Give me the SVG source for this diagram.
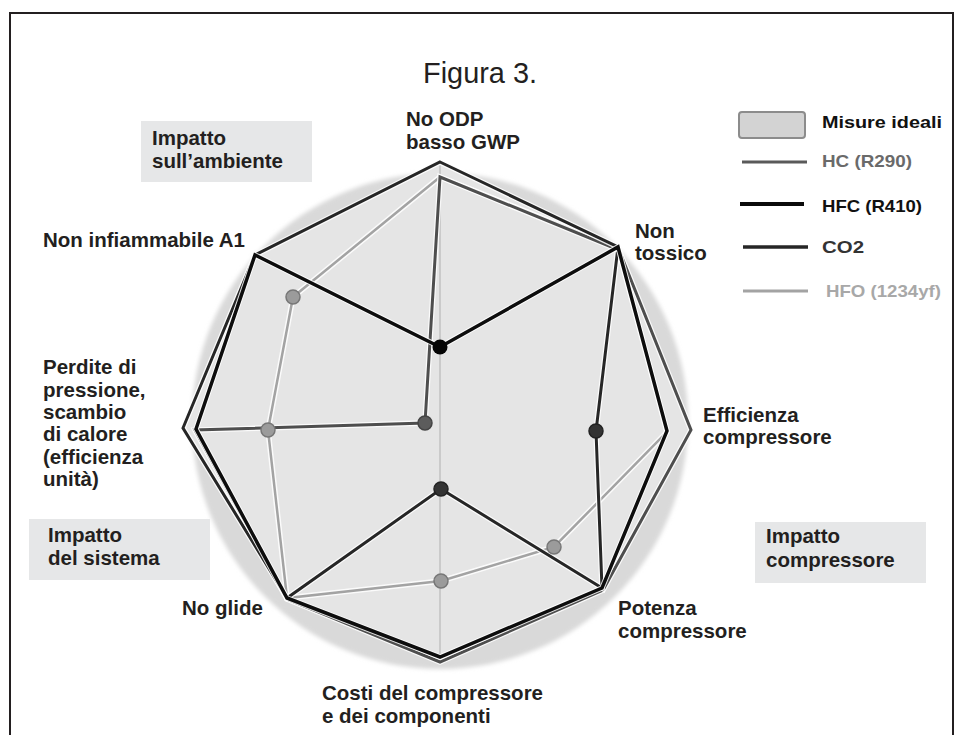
<svg xmlns="http://www.w3.org/2000/svg" width="960" height="735" viewBox="0 0 960 735">
<defs>
<style>
.lbl{font-family:"Liberation Sans",Arial,Helvetica,sans-serif;font-weight:bold;font-size:20.5px;fill:#231f20}
.leg{font-family:"Liberation Sans",Arial,Helvetica,sans-serif;font-weight:bold;font-size:17px}
.box{fill:#e6e7e8}
.halo{fill:none;stroke:#ffffff;stroke-width:5.5;stroke-linejoin:miter;stroke-opacity:0.85}
.s{fill:none;stroke-linejoin:miter}
</style>
<filter id="soft" x="-10%" y="-10%" width="120%" height="120%"><feGaussianBlur stdDeviation="2"/></filter>
</defs>
<rect x="0" y="0" width="960" height="735" fill="#ffffff"/>
<path d="M10,740 V13 H953 V740" fill="none" stroke="#231f20" stroke-width="2"/>
<text x="480" y="83" text-anchor="middle" font-family="'Liberation Sans',Arial,sans-serif" font-size="29" fill="#231f20" textLength="114" lengthAdjust="spacingAndGlyphs">Figura 3.</text>

<g id="ideal-area">
<circle cx="440" cy="421" r="248" fill="#d9d9d9" filter="url(#soft)"/>
<polygon points="440,162 618,247 691,430 602,588 440,662 287,598 183,428 255,255" fill="#e5e5e5"/>
<line x1="440" y1="162" x2="440" y2="662" stroke="#b8b8b8" stroke-width="1.2"/>
</g>

<g id="connectors">
<g id="series-hfo">
<polygon class="halo" points="440,177 618,248 667,432 554,547 441,581 287,598 268,430 293,297"/>
<polygon class="s" stroke="#a3a3a3" stroke-width="2.5" points="440,177 618,248 667,432 554,547 441,581 287,598 268,430 293,297"/>
</g>
<g id="series-hc">
<polygon class="halo" points="440,177 619,250 691,430 603,590 440,662 287,599 195,430 425,423"/>
<polygon class="s" stroke="#4e4e4e" stroke-width="3" points="440,177 619,250 691,430 603,590 440,662 287,599 195,430 425,423"/>
</g>
<g id="series-co2">
<polygon class="halo" points="440,162 618,247 596,431 602,588 441,489 287,598 183,428 255,255"/>
<polygon class="s" stroke="#262626" stroke-width="3" points="440,162 618,247 596,431 602,588 441,489 287,598 183,428 255,255"/>
</g>
<g id="series-hfc">
<polygon class="halo" points="440,347 618,247 667,431 602,588 440,657 287,598 196,429 255,255"/>
<polygon class="s" stroke="#0d0d0d" stroke-width="3.5" points="440,347 618,247 667,431 602,588 440,657 287,598 196,429 255,255"/>
</g>
<g id="dots">
<circle cx="293" cy="297" r="7" fill="#9b9b9b" stroke="#777" stroke-width="1.5"/>
<circle cx="268" cy="430" r="7" fill="#9b9b9b" stroke="#777" stroke-width="1.5"/>
<circle cx="441" cy="581" r="7" fill="#9b9b9b" stroke="#777" stroke-width="1.5"/>
<circle cx="554" cy="547" r="7" fill="#9b9b9b" stroke="#777" stroke-width="1.5"/>
<circle cx="425" cy="423" r="7" fill="#5c5c5c" stroke="#444" stroke-width="1.5"/>
<circle cx="596" cy="431" r="7" fill="#333" stroke="#222" stroke-width="1.5"/>
<circle cx="441" cy="489" r="7" fill="#333" stroke="#222" stroke-width="1.5"/>
<circle cx="440" cy="347" r="7.5" fill="#050505"/>
</g>
</g>

<g id="label-no-odp"><text class="lbl" x="406" y="126">No ODP</text><text class="lbl" x="406" y="149">basso GWP</text></g>
<g id="label-non-tossico"><text class="lbl" x="635" y="238">Non</text><text class="lbl" x="635" y="260">tossico</text></g>
<g id="label-efficienza"><text class="lbl" x="703" y="422">Efficienza</text><text class="lbl" x="703" y="444">compressore</text></g>
<g id="label-potenza"><text class="lbl" x="618" y="615">Potenza</text><text class="lbl" x="618" y="638">compressore</text></g>
<g id="label-costi"><text class="lbl" x="322" y="700">Costi del compressore</text><text class="lbl" x="322" y="723">e dei componenti</text></g>
<g id="label-no-glide"><text class="lbl" x="182" y="615">No glide</text></g>
<g id="label-perdite"><text class="lbl" x="43" y="374">Perdite di</text><text class="lbl" x="43" y="396.5">pressione,</text><text class="lbl" x="43" y="419">scambio</text><text class="lbl" x="43" y="441">di calore</text><text class="lbl" x="43" y="463.5">(efficienza</text><text class="lbl" x="43" y="486">unità)</text></g>
<g id="label-non-infiammabile"><text class="lbl" x="43" y="247">Non infiammabile A1</text></g>

<g id="box-ambiente"><rect class="box" x="141" y="121" width="171" height="61"/><text class="lbl" x="152" y="145">Impatto</text><text class="lbl" x="152" y="168">sull’ambiente</text></g>
<g id="box-sistema"><rect class="box" x="29" y="519" width="181" height="61"/><text class="lbl" x="48" y="542">Impatto</text><text class="lbl" x="48" y="565">del sistema</text></g>
<g id="box-compressore"><rect class="box" x="755" y="522" width="171" height="61"/><text class="lbl" x="766" y="543">Impatto</text><text class="lbl" x="766" y="567">compressore</text></g>

<g id="legend">
<g id="legend-ideali"><rect x="739" y="112" width="66" height="26" rx="3" fill="#d3d3d3" stroke="#8c8c8c" stroke-width="2"/><text class="leg" x="822" y="128" fill="#111" textLength="120" lengthAdjust="spacingAndGlyphs">Misure ideali</text></g>
<g id="legend-hc"><line x1="742" y1="162" x2="807" y2="162" stroke="#5a5a5a" stroke-width="3"/><text class="leg" x="822" y="167" fill="#6a6a6a" textLength="90" lengthAdjust="spacingAndGlyphs">HC (R290)</text></g>
<g id="legend-hfc"><line x1="740" y1="204" x2="804" y2="204" stroke="#0a0a0a" stroke-width="4"/><text class="leg" x="822" y="212" fill="#111" textLength="100" lengthAdjust="spacingAndGlyphs">HFC (R410)</text></g>
<g id="legend-co2"><line x1="743" y1="247" x2="808" y2="247" stroke="#262626" stroke-width="3.5"/><text class="leg" x="822" y="253" fill="#333" textLength="42" lengthAdjust="spacingAndGlyphs">CO2</text></g>
<g id="legend-hfo"><line x1="743" y1="291" x2="808" y2="291" stroke="#a3a3a3" stroke-width="3"/><text class="leg" x="826" y="297" fill="#a8a8a8" textLength="115" lengthAdjust="spacingAndGlyphs">HFO (1234yf)</text></g>
</g>
</svg>
